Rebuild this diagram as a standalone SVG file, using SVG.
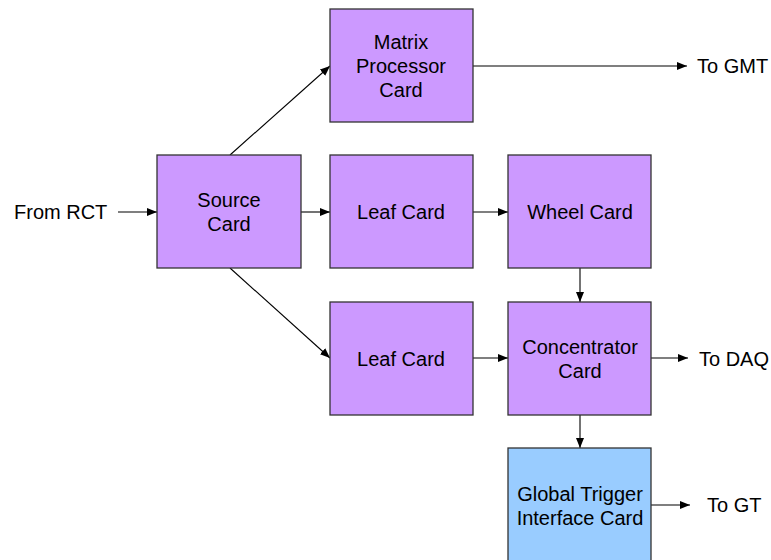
<svg xmlns="http://www.w3.org/2000/svg" width="771" height="560" viewBox="0 0 771 560">
<style>
.box{fill:#CC99FF;stroke:#333;stroke-width:1.3}
.blue{fill:#99CCFF}
.t{font-family:"Liberation Sans",Arial,sans-serif;font-size:20px;fill:#000;text-anchor:middle}
.l{font-family:"Liberation Sans",Arial,sans-serif;font-size:20px;fill:#000}
.c{stroke:#000;stroke-width:1.1;fill:none;marker-end:url(#a)}
</style>
<defs>
<marker id="a" viewBox="0 0 10 10" refX="10" refY="5" markerWidth="10" markerHeight="10" markerUnits="userSpaceOnUse" orient="auto">
<path d="M0,1 L10,5 L0,9 Z" fill="#000"/>
</marker>
</defs>
<rect width="771" height="560" fill="#fff"/>
<g id="connectors">
<line class="c" x1="118" y1="212" x2="157" y2="212"/>
<line class="c" x1="301" y1="212" x2="330" y2="212"/>
<line class="c" x1="230" y1="155" x2="330" y2="66"/>
<line class="c" x1="230" y1="268" x2="330" y2="358"/>
<line class="c" x1="473" y1="212" x2="508" y2="212"/>
<line class="c" x1="473" y1="66" x2="687" y2="66"/>
<line class="c" x1="580" y1="268" x2="580" y2="302"/>
<line class="c" x1="473" y1="358" x2="508" y2="358"/>
<line class="c" x1="651" y1="358" x2="688" y2="358"/>
<line class="c" x1="580" y1="415" x2="580" y2="448"/>
<line class="c" x1="651" y1="505" x2="690" y2="505"/>
</g>
<g id="source"><rect class="box" x="157" y="155" width="144" height="113"/><text class="t" x="229" y="207">Source</text><text class="t" x="229" y="231">Card</text></g>
<g id="matrix"><rect class="box" x="330" y="9" width="143" height="113"/><text class="t" x="401" y="49">Matrix</text><text class="t" x="401" y="73">Processor</text><text class="t" x="401" y="97">Card</text></g>
<g id="leaf1"><rect class="box" x="330" y="155" width="143" height="113"/><text class="t" x="401" y="219">Leaf Card</text></g>
<g id="wheel"><rect class="box" x="508" y="155" width="143" height="113"/><text class="t" x="580" y="219">Wheel Card</text></g>
<g id="leaf2"><rect class="box" x="330" y="302" width="143" height="113"/><text class="t" x="401" y="366">Leaf Card</text></g>
<g id="concentrator"><rect class="box" x="508" y="302" width="143" height="113"/><text class="t" x="580" y="354">Concentrator</text><text class="t" x="580" y="378">Card</text></g>
<g id="gti"><rect class="box blue" x="508" y="448" width="143" height="120"/><text class="t" x="580" y="501">Global Trigger</text><text class="t" x="580" y="525">Interface Card</text></g>
<g id="labels">
<text class="l" x="14" y="219">From RCT</text>
<text class="l" x="697" y="73">To GMT</text>
<text class="l" x="699" y="366">To DAQ</text>
<text class="l" x="707" y="512">To GT</text>
</g>
</svg>
